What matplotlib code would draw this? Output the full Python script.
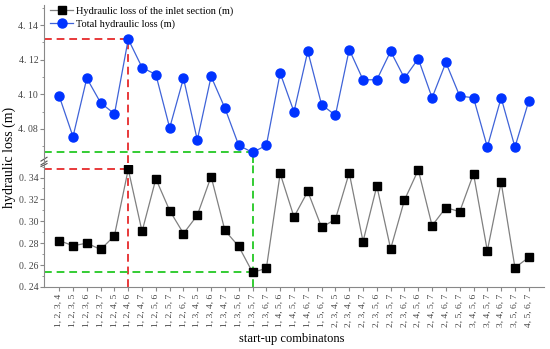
import itertools
import matplotlib
matplotlib.use("Agg")
import matplotlib.pyplot as plt
from matplotlib.ticker import MultipleLocator, FuncFormatter

plt.rcParams['font.family'] = ['Liberation Serif', 'DejaVu Serif']

# 35 start-up combinations (4 of 7 pumps)
combos = [", ".join(str(i) for i in c) for c in itertools.combinations(range(1, 8), 4)]

total_loss = [4.099, 4.0755, 4.1093, 4.0951, 4.0887, 4.1319, 4.1155, 4.1114, 4.0806, 4.1093,
              4.0736, 4.1103, 4.092, 4.0705, 4.0664, 4.0705, 4.1123, 4.0899, 4.1249, 4.094,
              4.0879, 4.1259, 4.1084, 4.1084, 4.1249, 4.1093, 4.1206, 4.098, 4.1184, 4.099,
              4.098, 4.0695, 4.098, 4.0695, 4.0961]
inlet_loss = [0.2824, 0.2776, 0.2800, 0.2742, 0.2867, 0.3476, 0.2907, 0.3388, 0.3098, 0.2888,
              0.3055, 0.3409, 0.2916, 0.2770, 0.2533, 0.2569, 0.3437, 0.3040, 0.3273, 0.2945,
              0.3018, 0.3443, 0.2815, 0.3322, 0.2748, 0.3194, 0.3470, 0.2960, 0.3125, 0.3088,
              0.3434, 0.2730, 0.3357, 0.2576, 0.2669]

x = list(range(len(combos)))
i_max = total_loss.index(max(total_loss))
i_min = total_loss.index(min(total_loss))

fig = plt.figure(figsize=(5.5, 3.49), dpi=100)
ax_top = fig.add_axes([0.08, 0.533, 0.909, 0.453])
ax_bot = fig.add_axes([0.08, 0.178, 0.909, 0.349], sharex=ax_top)

spine_c = '#888888'
red = '#E8393A'
green = '#33CC33'
fmt = FuncFormatter(lambda v, p: f"{v:.2f}".replace(".", ". "))

top_lim = (4.0603, 4.1517)
bot_lim = (0.24, 0.3514)

for ax in (ax_top, ax_bot):
    ax.spines['top'].set_visible(False)
    ax.spines['right'].set_visible(False)
    ax.spines['left'].set_color(spine_c)
    ax.spines['bottom'].set_color(spine_c)
    ax.yaxis.set_major_locator(MultipleLocator(0.02))
    ax.yaxis.set_minor_locator(MultipleLocator(0.01))
    ax.yaxis.set_major_formatter(fmt)
    ax.tick_params(axis='y', which='major', direction='out', length=3, color=spine_c,
                   labelsize=7, labelcolor='#444444', pad=1.2)
    ax.tick_params(axis='y', which='minor', direction='out', length=1.8, color=spine_c)
    ax.set_xlim(-1.1, 35.1)
    ax.patch.set_alpha(0)

ax_top.spines['bottom'].set_visible(False)
ax_top.tick_params(axis='x', which='both', bottom=False, labelbottom=False)
ax_top.set_ylim(*top_lim)
ax_bot.set_ylim(*bot_lim)

# reference dashed lines
dash = dict(linestyle=(0, (4, 2.5)), linewidth=1.4, zorder=1)
ax_top.hlines(total_loss[i_max], -1.1, i_max, color=red, **dash)
ax_top.vlines(i_max, top_lim[0], total_loss[i_max], color=red, **dash)
ax_top.hlines(total_loss[i_min], -1.1, i_min, color=green, **dash)
ax_top.vlines(i_min, top_lim[0], total_loss[i_min], color=green, **dash)
ax_bot.hlines(inlet_loss[i_max], -1.1, i_max, color=red, **dash)
ax_bot.vlines(i_max, bot_lim[0], bot_lim[1], color=red, **dash)
ax_bot.hlines(inlet_loss[i_min], -1.1, i_min, color=green, **dash)
ax_bot.vlines(i_min, bot_lim[0], bot_lim[1], color=green, **dash)

l_total, = ax_top.plot(x, total_loss, color='#3F63D8', linewidth=0.9, marker='o',
                       markersize=6.5, markerfacecolor='#0033FF', markeredgecolor='#0033FF',
                       zorder=3, label='Total hydraulic loss (m)')
l_inlet, = ax_bot.plot(x, inlet_loss, color='#808080', linewidth=0.9, marker='s',
                       markersize=5.5, markerfacecolor='black', markeredgecolor='black',
                       zorder=3, label='Hydraulic loss of the inlet section (m)')

ax_bot.set_xticks(x)
ax_bot.set_xticklabels(combos, rotation=90, fontsize=6.8, color='#444444')
ax_bot.tick_params(axis='x', direction='out', length=3, color=spine_c, pad=2)

# break marks on the y axis
for ax, yy in ((ax_top, 0.0), (ax_bot, 1.0)):
    ax.plot([-0.006, 0.006], [yy - 0.012, yy + 0.012], transform=ax.transAxes,
            color='#555555', linewidth=0.8, clip_on=False)
ax_top.plot([-0.006, 0.006], [0.012, 0.036], transform=ax_top.transAxes,
            color='#555555', linewidth=0.8, clip_on=False)

ax_top.legend(handles=[l_inlet, l_total], loc='upper left', bbox_to_anchor=(0.0, 1.03),
              frameon=False, fontsize=7.5, handlelength=2.2, handletextpad=0.3,
              labelspacing=0.25, borderaxespad=0.2)

fig.text(0.016, 0.55, 'hydraulic loss (m)', rotation=90, ha='center', va='center', fontsize=10)
fig.text(0.53, 0.03, 'start-up combinatons', ha='center', va='center', fontsize=9)

fig.savefig('out.png', dpi=100)
